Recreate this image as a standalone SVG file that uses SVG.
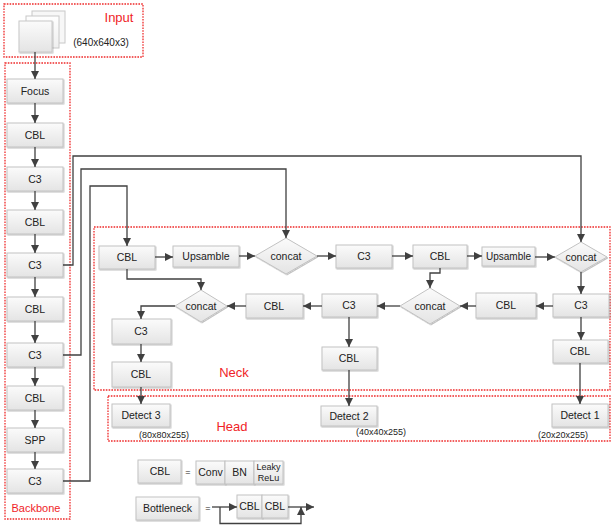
<svg xmlns="http://www.w3.org/2000/svg" width="614" height="526" viewBox="0 0 614 526">
<style>
.box{fill:url(#g);stroke:#c2c2c2;stroke-width:1;filter:url(#sh)}
.img{stroke:#c8c8c8;stroke-width:1}
.t{font-family:"Liberation Sans",Arial,sans-serif;font-size:10.5px;fill:#222;text-anchor:middle}
.s{font-family:"Liberation Sans",Arial,sans-serif;font-size:9px;fill:#222;text-anchor:middle}
.r{font-family:"Liberation Sans",Arial,sans-serif;font-size:13px;fill:#f01e28;text-anchor:middle}
.grp{fill:none;stroke:#ee2a2a;stroke-width:1.3;stroke-dasharray:1.6,1.2}
.c{fill:none;stroke:#404040;stroke-width:1.3;marker-end:url(#ah)}
</style>
<defs>
<linearGradient id="g" x1="0" y1="0" x2="0" y2="1">
<stop offset="0" stop-color="#fbfbfb"/>
<stop offset="1" stop-color="#e4e4e4"/>
</linearGradient>
<linearGradient id="g2" x1="0" y1="0" x2="0" y2="1">
<stop offset="0" stop-color="#ffffff"/>
<stop offset="1" stop-color="#efefef"/>
</linearGradient>
<filter id="sh" x="-10%" y="-10%" width="130%" height="140%">
<feDropShadow dx="0.8" dy="1" stdDeviation="0.7" flood-color="#000" flood-opacity="0.25"/>
</filter>
<marker id="ah" viewBox="0 0 10 10" refX="10" refY="5" markerWidth="8" markerHeight="8" markerUnits="userSpaceOnUse" orient="auto">
<path d="M0,0 L10,5 L0,10 z" fill="#404040"/>
</marker>
</defs>
<rect width="614" height="526" fill="#fff"/>

<!-- group frames -->
<g id="frames">
<rect class="grp" x="4" y="4" width="139" height="53"/>
<rect class="grp" x="5" y="63" width="65" height="456"/>
<rect class="grp" x="94" y="227" width="516" height="163"/>
<rect class="grp" x="108" y="396" width="502" height="45"/>
<text class="r" x="119" y="22">Input</text>
<text class="r" x="36" y="512" style="font-size:11px">Backbone</text>
<text class="r" x="234" y="377">Neck</text>
<text class="r" x="232" y="431">Head</text>
</g>

<!-- input -->
<g id="input">
<rect class="img" x="32" y="11" width="33" height="32" fill="#f7f7f7"/>
<rect class="img" x="26" y="16" width="33" height="32" fill="url(#g2)"/>
<rect class="img box" x="19" y="21" width="33" height="31"/>
<text class="t" x="101" y="46" style="font-size:10px">(640x640x3)</text>
</g>

<!-- backbone -->
<g id="bb-focus"><rect class="box" x="7" y="79" width="56" height="24"/><text class="t" x="35" y="95">Focus</text></g>
<g id="bb-cbl1"><rect class="box" x="7" y="123" width="56" height="24"/><text class="t" x="35" y="139">CBL</text></g>
<g id="bb-c31"><rect class="box" x="7" y="167" width="56" height="24"/><text class="t" x="35" y="183">C3</text></g>
<g id="bb-cbl2"><rect class="box" x="7" y="210" width="56" height="24"/><text class="t" x="35" y="226">CBL</text></g>
<g id="bb-c32"><rect class="box" x="7" y="253" width="56" height="24"/><text class="t" x="35" y="269">C3</text></g>
<g id="bb-cbl3"><rect class="box" x="7" y="297" width="56" height="24"/><text class="t" x="35" y="313">CBL</text></g>
<g id="bb-c33"><rect class="box" x="7" y="343" width="56" height="24"/><text class="t" x="35" y="359">C3</text></g>
<g id="bb-cbl4"><rect class="box" x="7" y="386" width="56" height="24"/><text class="t" x="35" y="402">CBL</text></g>
<g id="bb-spp"><rect class="box" x="7" y="428" width="56" height="24"/><text class="t" x="35" y="444">SPP</text></g>
<g id="bb-c34"><rect class="box" x="7" y="469" width="56" height="24"/><text class="t" x="35" y="485">C3</text></g>

<!-- neck -->
<g id="n-cbl1"><rect class="box" x="99" y="246" width="56" height="23"/><text class="t" x="127" y="261">CBL</text></g>
<g id="n-up1"><rect class="box" x="173" y="246" width="66" height="21"/><text class="t" x="206" y="260">Upsamble</text></g>
<g id="n-cat1"><polygon class="box" points="255,256 286,238 317,256 286,274"/><text class="t" x="286" y="260">concat</text></g>
<g id="n-c31"><rect class="box" x="336" y="245" width="56" height="23"/><text class="t" x="364" y="260">C3</text></g>
<g id="n-cbl2"><rect class="box" x="413" y="245" width="54" height="23"/><text class="t" x="440" y="260">CBL</text></g>
<g id="n-up2"><rect class="box" x="482" y="247" width="53" height="19"/><text class="t" x="508.5" y="260" style="font-size:10px">Upsamble</text></g>
<g id="n-cat2"><polygon class="box" points="555,257 581,242 607,257 581,272"/><text class="t" x="581" y="261">concat</text></g>
<g id="n-c32"><rect class="box" x="553" y="294" width="56" height="23"/><text class="t" x="581" y="309">C3</text></g>
<g id="n-cbl3"><rect class="box" x="476" y="293" width="60" height="25"/><text class="t" x="506" y="309">CBL</text></g>
<g id="n-cat3"><polygon class="box" points="400,306 430,288 460,306 430,324"/><text class="t" x="430" y="310">concat</text></g>
<g id="n-c33"><rect class="box" x="322" y="294" width="55" height="23"/><text class="t" x="349" y="309">C3</text></g>
<g id="n-cbl4"><rect class="box" x="246" y="294" width="57" height="24"/><text class="t" x="274" y="310">CBL</text></g>
<g id="n-cat4"><polygon class="box" points="175,306 201,290 227,306 201,322"/><text class="t" x="201" y="310">concat</text></g>
<g id="n-c34"><rect class="box" x="112" y="319" width="59" height="25"/><text class="t" x="141" y="335">C3</text></g>
<g id="n-cbl5"><rect class="box" x="112" y="362" width="59" height="25"/><text class="t" x="141" y="378">CBL</text></g>
<g id="n-cbl6"><rect class="box" x="322" y="347" width="55" height="23"/><text class="t" x="349" y="362">CBL</text></g>
<g id="n-cbl7"><rect class="box" x="553" y="340" width="55" height="23"/><text class="t" x="580" y="355">CBL</text></g>

<!-- head -->
<g id="h-d3"><rect class="box" x="112" y="404" width="58" height="23"/><text class="t" x="141" y="419">Detect 3</text><text class="s" x="164" y="438">(80x80x255)</text></g>
<g id="h-d2"><rect class="box" x="321" y="406" width="56" height="20"/><text class="t" x="349" y="420">Detect 2</text><text class="s" x="381" y="435">(40x40x255)</text></g>
<g id="h-d1"><rect class="box" x="552" y="404" width="56" height="23"/><text class="t" x="580" y="419">Detect 1</text><text class="s" x="563" y="438">(20x20x255)</text></g>

<!-- legend -->
<g id="legend-cbl">
<rect class="box" x="138" y="460" width="43" height="23"/><text class="t" x="160" y="475">CBL</text>
<text class="s" x="188" y="475">=</text>
<rect class="box" x="196" y="461" width="29" height="23"/><text class="t" x="210.5" y="476">Conv</text>
<rect class="box" x="225" y="461" width="29" height="23"/><text class="t" x="239.5" y="476">BN</text>
<rect class="box" x="254" y="461" width="29" height="23"/><text class="s" x="268.5" y="470">Leaky</text><text class="s" x="268.5" y="481">ReLu</text>
</g>
<g id="legend-bottleneck">
<rect class="box" x="136" y="497" width="63" height="23"/><text class="t" x="167.5" y="512">Bottleneck</text>
<text class="s" x="208" y="511">=</text>
<rect class="box" x="237" y="495" width="25" height="23"/><text class="t" x="249.5" y="510">CBL</text>
<rect class="box" x="262" y="495" width="26" height="23"/><text class="t" x="275" y="510">CBL</text>
<path class="c" d="M212,507 H237"/>
<path class="c" d="M288,507 H314"/>
<path class="c" d="M220,507 V523.5 H301 V507"/>
</g>

<!-- connectors -->
<g id="connectors">
<path class="c" d="M35,52 V79"/>
<path class="c" d="M35,103 V123"/>
<path class="c" d="M35,147 V167"/>
<path class="c" d="M35,191 V210"/>
<path class="c" d="M35,234 V253"/>
<path class="c" d="M35,277 V297"/>
<path class="c" d="M35,321 V343"/>
<path class="c" d="M35,367 V386"/>
<path class="c" d="M35,410 V428"/>
<path class="c" d="M35,452 V469"/>

<path class="c" d="M63,265 H73 V156 H581 V242"/>
<path class="c" d="M63,355 H81 V169 H286 V238"/>
<path class="c" d="M63,481 H90 V186 H127 V246"/>

<path class="c" d="M155,257 H173"/>
<path class="c" d="M239,256 H255"/>
<path class="c" d="M317,256 H336"/>
<path class="c" d="M392,256 H413"/>
<path class="c" d="M467,256 H482"/>
<path class="c" d="M535,257 H555"/>
<path class="c" d="M127,269 V279 H201 V290"/>
<path class="c" d="M581,272 V294"/>
<path class="c" d="M553,306 H536"/>
<path class="c" d="M476,306 H460"/>
<path class="c" d="M400,306 H377"/>
<path class="c" d="M322,306 H303"/>
<path class="c" d="M246,306 H227"/>
<path class="c" d="M175,306 H141 V319"/>
<path class="c" d="M141,344 V362"/>
<path class="c" d="M141,387 V404"/>
<path class="c" d="M440,268 V273 H430 V288"/>
<path class="c" d="M349,317 V347"/>
<path class="c" d="M349,370 V406"/>
<path class="c" d="M581,317 V340"/>
<path class="c" d="M580,363 V404"/>
</g>
</svg>
